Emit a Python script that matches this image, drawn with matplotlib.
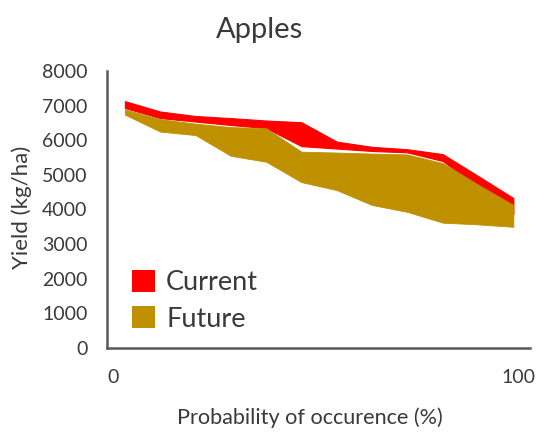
import matplotlib
matplotlib.use("Agg")
import matplotlib.pyplot as plt
from matplotlib.patches import Patch

# Data
prob = [3.0, 11.7, 20.4, 29.1, 37.8, 46.5, 55.2, 63.9, 72.6, 81.3, 90.0, 98.7]
current_upper = [7130, 6830, 6700, 6640, 6570, 6520, 5960, 5810, 5740, 5600, 4970, 4330]
current_lower = [6930, 6640, 6540, 6440, 6350, 5830, 5760, 5690, 5650, 5400, 4650, 3870]
future_upper = [6890, 6610, 6480, 6380, 6345, 5670, 5645, 5615, 5590, 5340, 4720, 4130]
future_lower = [6740, 6250, 6150, 5550, 5380, 4790, 4560, 4130, 3930, 3620, 3570, 3500]
labels = ["Current", "Future"]
colors = ["#FF0000", "#BF9000"]
yticks = [0, 1000, 2000, 3000, 4000, 5000, 6000, 7000, 8000]
xticks = [0, 100]

plt.rcParams['font.family'] = ['Lato', 'DejaVu Sans']
text_col = "#3A3A3A"

fig = plt.figure(figsize=(5.48, 4.33), dpi=100)
ax = fig.add_axes([107/548, 1 - 348/433, (530 - 107)/548, (348 - 71)/433])

ax.fill_between(prob, current_lower, current_upper, facecolor=colors[0],
                edgecolor=colors[0], linewidth=0.8)
ax.fill_between(prob, future_lower, future_upper, facecolor=colors[1],
                edgecolor=colors[1], linewidth=0.6)

ax.set_xlim(-1.4, 102.8)
ax.set_ylim(0, 8000)
ax.set_xticks(xticks)
ax.set_yticks(yticks)
ax.tick_params(axis='both', length=0, labelsize=14, colors=text_col)
ax.tick_params(axis='y', pad=14)
ax.tick_params(axis='x', pad=15)

for s in ['top', 'right']:
    ax.spines[s].set_visible(False)
for s in ['left', 'bottom']:
    ax.spines[s].set_color('#595959')
    ax.spines[s].set_linewidth(1.8)

fig.text(260/548, 1 - 30/433, "Apples", ha='center', va='center', fontsize=21, color=text_col)
fig.text(22/548, 1 - 207/433, "Yield (kg/ha)", ha='center', va='center', rotation=90, fontsize=16, color=text_col)
fig.text(310/548, 1 - 418/433, "Probability of occurence (%)", ha='center', va='center', fontsize=15.6, color=text_col)

handles = [Patch(facecolor=c, edgecolor='none') for c in colors]
leg = fig.legend(handles, labels, loc='center left', bbox_to_anchor=(131.7/548, 1 - 300.6/433),
                 frameon=False, fontsize=19.5, handlelength=0.85, handleheight=0.9,
                 handletextpad=0.42, labelspacing=0.4, borderpad=0, borderaxespad=0)
for t in leg.get_texts():
    t.set_color(text_col)

fig.savefig("out.png", dpi=100)
